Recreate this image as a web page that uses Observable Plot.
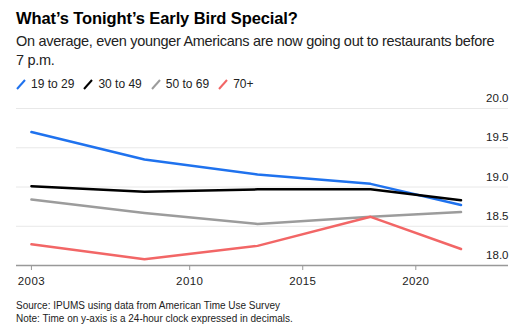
<!DOCTYPE html>
<html>
<head>
<meta charset="utf-8">
<script src="https://cdn.jsdelivr.net/npm/d3@7"></script>
<script src="https://cdn.jsdelivr.net/npm/@observablehq/plot@0.6"></script>
<style>
  html, body { margin: 0; padding: 0; background: #fff; }
  body { width: 531px; font-family: "Liberation Sans", Arial, Helvetica, sans-serif; color: #000; }
  #wrap { padding: 8px 0 0 0; }
  h1 { margin: 0 16px; font-size: 16.5px; font-weight: bold; line-height: 21px; letter-spacing: -0.1px; }
  .sub { margin: 3px 16px 0 16px; width: 485px; font-size: 14.5px; line-height: 19px; color: #222; letter-spacing: -0.3px; }
  .legend { margin: 7px 16px 0 16px; font-size: 12px; line-height: 14px; display: flex; align-items: center; color: #222; }
  .legend .item { display: flex; align-items: center; margin-right: 9px; }
  .legend svg { margin-right: 5px; }
  .foot { margin: 2px 16px 0 16px; font-size: 10px; line-height: 13px; color: #222; }
  #chart { margin-top: 2px; }
  #chart svg { display: block; }
  .xlab text { letter-spacing: 0.4px; }
</style>
</head>
<body>
<div id="wrap">
  <h1>What’s Tonight’s Early Bird Special?</h1>
  <div class="sub">On average, even younger Americans are now going out to restaurants before 7&nbsp;p.m.</div>
  <div class="legend" id="legend"></div>
  <div id="chart"></div>
  <div class="foot">Source: IPUMS using data from American Time Use Survey<br>Note: Time on y-axis is a 24-hour clock expressed in decimals.</div>
</div>
<script>
const years = [2003, 2008, 2013, 2018, 2022];
const seriesNames = ["19 to 29", "30 to 49", "50 to 69", "70+"];
const age19to29 = [19.70, 19.35, 19.16, 19.04, 18.77];
const age30to49 = [19.01, 18.94, 18.97, 18.97, 18.83];
const age50to69 = [18.84, 18.67, 18.53, 18.62, 18.68];
const age70plus = [18.27, 18.08, 18.25, 18.62, 18.21];
const colors = ["#1f72ee", "#000000", "#9c9c9c", "#f26666"];
const xTicks = [2003, 2010, 2015, 2020];
const yTicks = [18.0, 18.5, 19.0, 19.5, 20.0];

const allValues = [age19to29, age30to49, age50to69, age70plus];
const data = [];
seriesNames.forEach((name, i) => {
  years.forEach((yr, j) => data.push({series: name, year: yr, value: allValues[i][j]}));
});

// legend
const legend = document.getElementById("legend");
seriesNames.forEach((name, i) => {
  const item = document.createElement("div");
  item.className = "item";
  item.innerHTML = `<svg width="10" height="12"><line x1="1" y1="11" x2="9" y2="2" stroke="${colors[i]}" stroke-width="2"/></svg><span>${name}</span>`;
  legend.appendChild(item);
});

const chart = Plot.plot({
  width: 531,
  height: 204,
  marginTop: 15,
  marginBottom: 32,
  marginLeft: 16,
  marginRight: 23,
  style: {fontFamily: "'Liberation Sans', Arial, sans-serif", fontSize: "11.5px", color: "#222", background: "#fff"},
  x: {domain: [2002.34, 2024.1]},
  y: {domain: [18, 20]},
  color: {domain: seriesNames, range: colors},
  marks: [
    Plot.ruleY(yTicks.slice(1), {stroke: "#e8e8e8", strokeWidth: 1}),
    Plot.axisX({ticks: xTicks, tickSize: 5, stroke: "#999", text: null, label: null}),
    Plot.text(xTicks, {x: d => d, text: d => String(d), frameAnchor: "bottom", dy: 16, lineAnchor: "middle", fill: "#222", fontSize: 11.5, className: "xlab"}),
    Plot.axisY({anchor: "right", ticks: yTicks, tickFormat: d => d.toFixed(1), tickSize: 0, tickPadding: 0, textAnchor: "end", dy: -10, label: null, fontSize: "11.5px"}),
    Plot.line(data, {x: "year", y: "value", z: "series", stroke: "series", strokeWidth: 2.5, strokeLinejoin: "round"}),
    Plot.ruleY([18], {stroke: "#999", strokeWidth: 1.5})
  ]
});
document.getElementById("chart").appendChild(chart);
</script>
</body>
</html>
